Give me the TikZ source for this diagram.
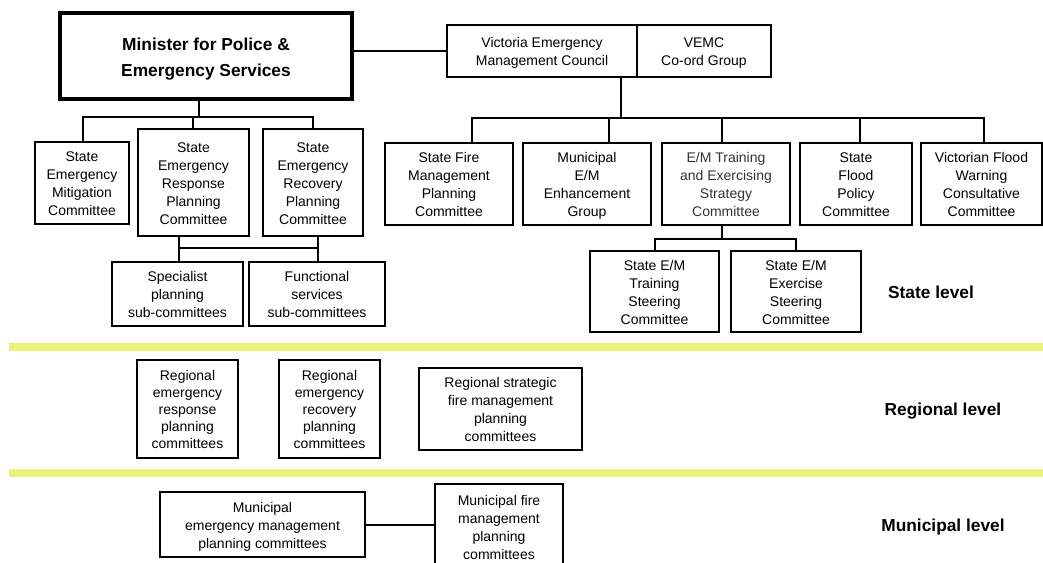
\documentclass[tikz,border=0pt]{standalone}
\usepackage{fontspec}
\setmainfont{Liberation Sans}
\definecolor{band}{RGB}{234,242,122}
\tikzset{
  box/.style={draw=black, line width=1.5pt, inner sep=0pt, align=center,
    font=\fontsize{10.5}{13.5}\selectfont},
  bigbox/.style={box, line width=3pt, font=\fontsize{13}{19.5}\selectfont\bfseries},
  conn/.style={draw=black, line width=1.5pt},
  level/.style={font=\fontsize{13}{16}\selectfont\bfseries, inner sep=0pt},
}
% #1 options, #2 name, #3 x1, #4 y1, #5 x2, #6 y2, #7 text
\newcommand\mybox[7][box]{%
  \node[#1, minimum width={(#5-#3)*0.75pt}, minimum height={(#6-#4)*0.75pt}]
    (#2) at ({(#3+#5)/2},{(#4+#6)/2})
    {\raisebox{-1.6pt}[\height][\depth]{\begin{tabular}{@{}c@{}}#7\end{tabular}}};}
\begin{document}
\begin{tikzpicture}[x=0.75pt,y=-0.75pt]
\useasboundingbox (0,0) rectangle (1043,562);
\clip (0,0) rectangle (1043,562);
% bands
\fill[band] (9,343) rectangle (1043,351);
\fill[band] (9,469) rectangle (1043,477);
% top
\mybox[bigbox]{min}{60}{13}{352}{99}{Minister for Police \&\\Emergency Services}
\mybox{vemc}{447}{25}{637}{77}{Victoria Emergency\\Management Council}
\mybox{coord}{637}{25}{771}{77}{VEMC\\Co-ord Group}
% left state committees
\mybox{mit}{35}{142}{129}{224}{State\\Emergency\\Mitigation\\Committee}
\mybox{resp}{138}{129}{249}{236}{State\\Emergency\\Response\\Planning\\Committee}
\mybox{recv}{263}{129}{363}{236}{State\\Emergency\\Recovery\\Planning\\Committee}
\mybox{spec}{112}{262}{243}{326}{Specialist\\planning\\sub-committees}
\mybox{func}{249}{262}{385}{326}{Functional\\services\\sub-committees}
% right state committees
\mybox{sfm}{385}{143}{513}{225}{State Fire\\Management\\Planning\\Committee}
\mybox{mun}{523}{143}{651}{225}{Municipal\\E/M\\Enhancement\\Group}
\mybox[box,text=black!80]{emt}{662}{143}{790}{225}{E/M Training\\and Exercising\\Strategy\\Committee}
\mybox{sfp}{800}{143}{912}{225}{State\\Flood\\Policy\\Committee}
\mybox{vfw}{921}{143}{1042}{225}{Victorian Flood\\Warning\\Consultative\\Committee}
\mybox{tr}{590}{251}{719}{332}{State E/M\\Training\\Steering\\Committee}
\mybox{ex}{731}{251}{861}{332}{State E/M\\Exercise\\Steering\\Committee}
% regional
\mybox[box,font=\fontsize{10.5}{12.75}\selectfont]{rresp}{137}{360}{238}{458}{Regional\\emergency\\response\\planning\\committees}
\mybox[box,font=\fontsize{10.5}{12.75}\selectfont]{rrec}{279}{360}{380}{458}{Regional\\emergency\\recovery\\planning\\committees}
\mybox{rstr}{419}{368}{582}{450}{Regional strategic\\fire management\\planning\\committees}
% municipal
\mybox{memp}{160}{492}{365}{557}{Municipal\\emergency management\\planning committees}
\mybox{mfire}{435}{484}{563}{570}{Municipal fire\\management\\planning\\committees}
% level labels
\node[level] (lstate) at (931,292) {State level};
\node[level] (lreg) at (943,411) {Regional level};
\node[level] (lmun) at (943,527) {Municipal level};
% coordinates
\coordinate (mbus) at (199,117);
\coordinate (lb1) at (83,117);
\coordinate (lb2) at (193,117);
\coordinate (lb3) at (313,117);
\coordinate (sb1) at (179,248);
\coordinate (sb2) at (318,248);
\coordinate (vbus) at (621,118);
\coordinate (rb1) at (472,118);
\coordinate (rb2) at (609,118);
\coordinate (rb3) at (722,118);
\coordinate (rb4) at (860,118);
\coordinate (rb5) at (984,118);
\coordinate (tb) at (722,239);
\coordinate (tb1) at (655,239);
\coordinate (tb2) at (796,239);
\coordinate (mc) at (400,525);
% connectors
\draw[conn] (vemc.west) -- (vemc.west -| min.east);
\draw[conn] (mbus |- min.south) -- (mbus);
\draw[conn] (lb1 |- mit.north) -- (lb1) -- (lb3) -- (lb3 |- recv.north);
\draw[conn] (lb2) -- (lb2 |- resp.north);
\draw[conn] (sb1 |- resp.south) -- (sb1 |- spec.north);
\draw[conn] (sb2 |- recv.south) -- (sb2 |- func.north);
\draw[conn] (sb1) -- (sb2);
\draw[conn] (vbus |- vemc.south) -- (vbus);
\draw[conn] (rb1 |- sfm.north) -- (rb1) -- (rb5) -- (rb5 |- vfw.north);
\draw[conn] (rb2) -- (rb2 |- mun.north);
\draw[conn] (rb3) -- (rb3 |- emt.north);
\draw[conn] (rb4) -- (rb4 |- sfp.north);
\draw[conn] (tb |- emt.south) -- (tb);
\draw[conn] (tb1 |- tr.north) -- (tb1) -- (tb2) -- (tb2 |- ex.north);
\draw[conn] (memp.east |- mc) -- (mfire.west |- mc);
\end{tikzpicture}
\end{document}
